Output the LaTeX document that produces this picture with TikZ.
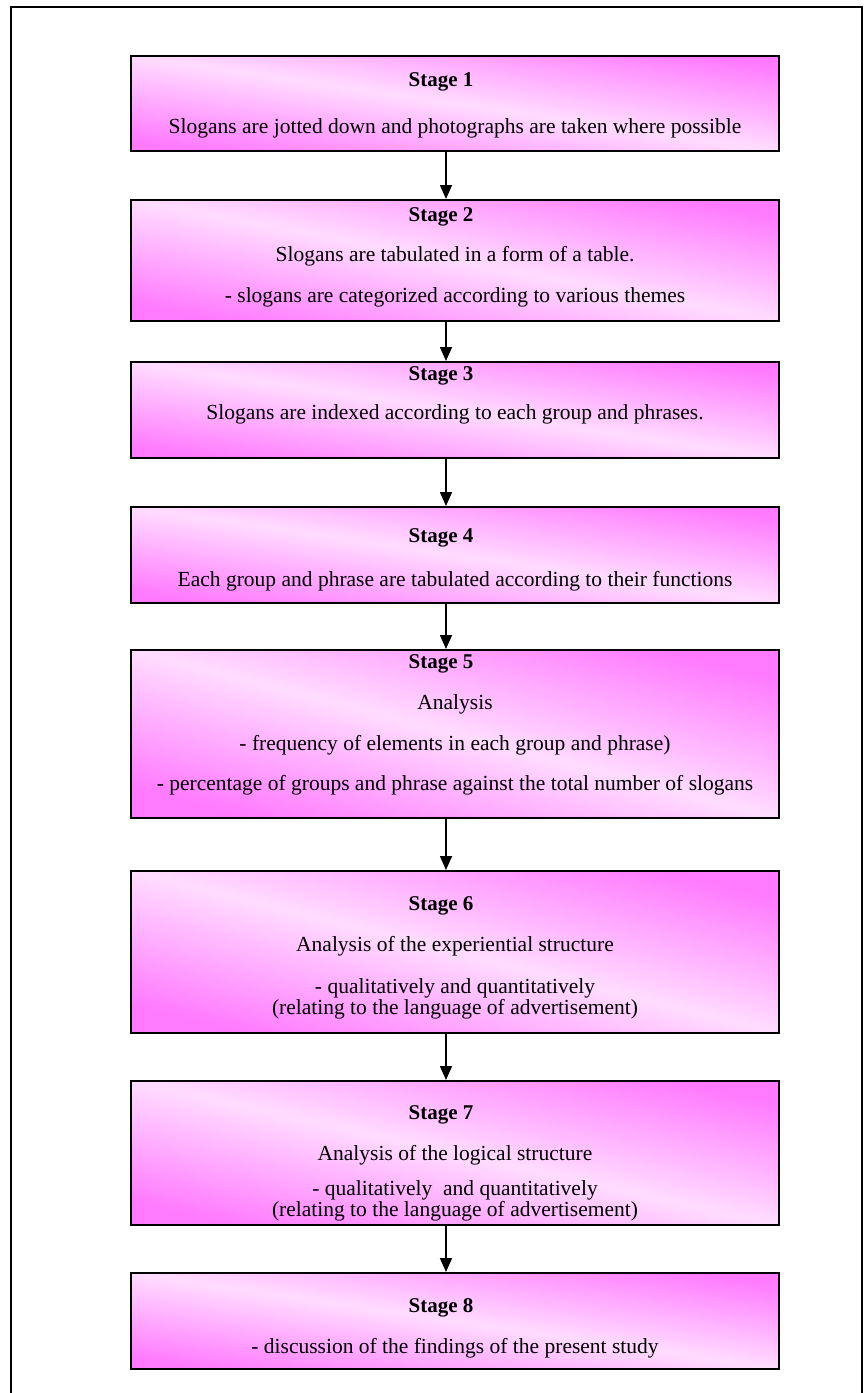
\documentclass[tikz,border=0pt]{standalone}
\usepackage{fontspec}
\setmainfont{Liberation Serif}
\usetikzlibrary{arrows.meta}
\definecolor{pkdark}{HTML}{FF7AFF}
\definecolor{pklight}{HTML}{FFDCFF}
\tikzset{
  stagebox/.style={draw=black, line width=1.6pt, minimum width=648pt, anchor=north, shading=axis, top color=pkdark, bottom color=pkdark, middle color=pklight, shading angle=#1},
  txt/.style={inner sep=0pt, font=\fontsize{21.5}{25}\selectfont},
  head/.style={inner sep=0pt, font=\fontsize{21}{25}\selectfont\bfseries},
  flow/.style={line width=1.6pt, -{Triangle[length=14pt,width=12pt]}}
}
\begin{document}
\begin{tikzpicture}[x=1pt,y=-1pt]
\useasboundingbox (0,0) rectangle (864,1393);
% outer frame
\coordinate (fbl) at (11,1393);
\coordinate (ftl) at (11,7);
\coordinate (ftr) at (862,7);
\coordinate (fbr) at (862,1393);
\draw[line width=1.4pt] (fbl) -- (ftl) -- (ftr) -- (fbr);
% boxes
\node[stagebox=-8.34, minimum height=95pt] (b1) at (455,55) {};
\node[stagebox=-10.58, minimum height=121pt] (b2) at (455,199) {};
\node[stagebox=-8.43, minimum height=96pt] (b3) at (455,361) {};
\node[stagebox=-8.43, minimum height=96pt] (b4) at (455,506) {};
\node[stagebox=-14.54, minimum height=168pt] (b5) at (455,649) {};
\node[stagebox=-14.04, minimum height=162pt] (b6) at (455,870) {};
\node[stagebox=-12.53, minimum height=144pt] (b7) at (455,1080) {};
\node[stagebox=-8.43, minimum height=96pt] (b8) at (455,1272) {};
% texts
\node[head] (t1a) at (441,82) {Stage 1};
\node[txt] (t1b) at (455,128) {Slogans are jotted down and photographs are taken where possible};
\node[head] (t2a) at (441,217) {Stage 2};
\node[txt] (t2b) at (455,256) {Slogans are tabulated in a form of a table.};
\node[txt] (t2c) at (455,297) {- slogans are categorized according to various themes};
\node[head] (t3a) at (441,376) {Stage 3};
\node[txt] (t3b) at (455,414) {Slogans are indexed according to each group and phrases.};
\node[head] (t4a) at (441,538) {Stage 4};
\node[txt] (t4b) at (455,581) {Each group and phrase are tabulated according to their functions};
\node[head] (t5a) at (441,664) {Stage 5};
\node[txt] (t5b) at (455,704) {Analysis};
\node[txt] (t5c) at (455,745) {- frequency of elements in each group and phrase)};
\node[txt] (t5d) at (455,785) {- percentage of groups and phrase against the total number of slogans};
\node[head] (t6a) at (441,906) {Stage 6};
\node[txt] (t6b) at (455,946) {Analysis of the experiential structure};
\node[txt] (t6c) at (455,988) {- qualitatively and quantitatively};
\node[txt] (t6d) at (455,1009) {(relating to the language of advertisement)};
\node[head] (t7a) at (441,1115) {Stage 7};
\node[txt] (t7b) at (455,1155) {Analysis of the logical structure};
\node[txt] (t7c) at (455,1190) {- qualitatively\ \ and quantitatively};
\node[txt] (t7d) at (455,1211) {(relating to the language of advertisement)};
\node[head] (t8a) at (441,1308) {Stage 8};
\node[txt] (t8b) at (455,1348) {- discussion of the findings of the present study};
% arrows
\foreach \a/\b in {b1/b2,b2/b3,b3/b4,b4/b5,b5/b6,b6/b7,b7/b8}
  \draw[flow] ([xshift=-9pt]\a.south) -- ([xshift=-9pt]\b.north);
\end{tikzpicture}
\end{document}
